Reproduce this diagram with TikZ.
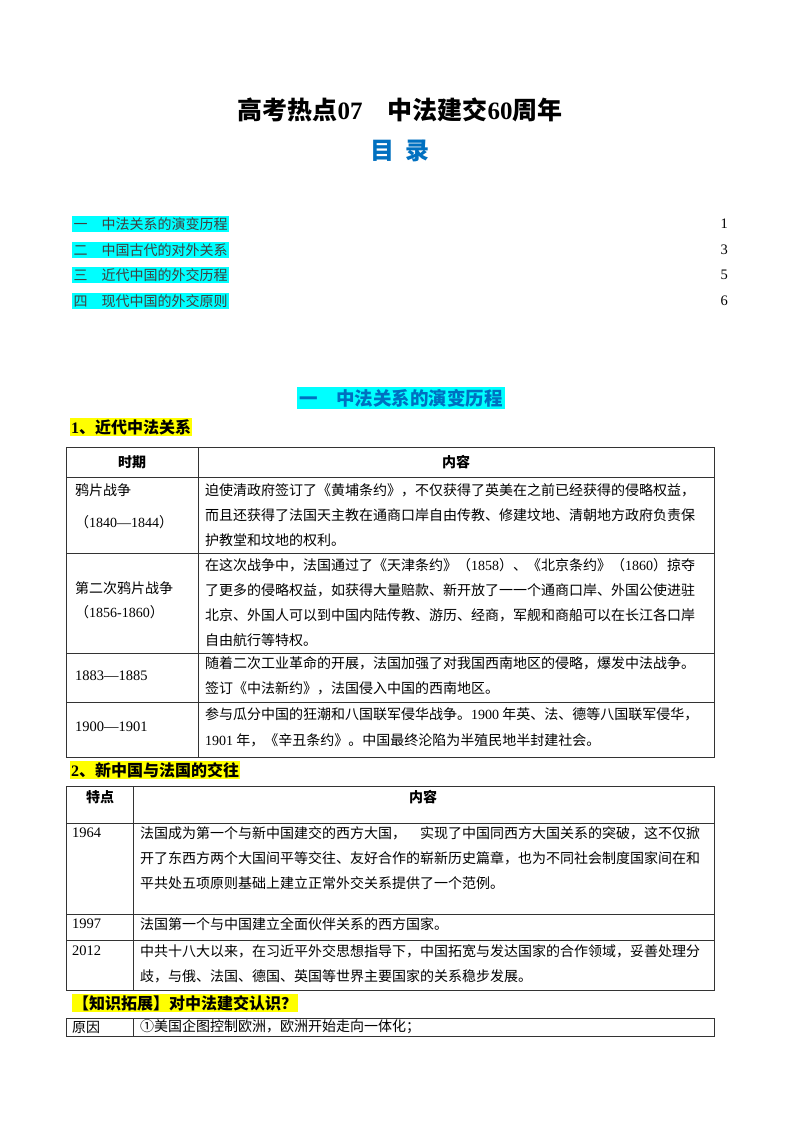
\documentclass[tikz,border=0pt]{standalone}
\usepackage{fontspec}
\setmainfont{Noto Sans CJK SC}
\newfontfamily\serifn{Liberation Serif}
\definecolor{hlc}{RGB}{0,255,255}
\definecolor{hly}{RGB}{255,255,0}
\definecolor{tblue}{RGB}{0,112,192}
\begin{document}
\begin{tikzpicture}[x=1pt,y=-1pt,
  t/.style={anchor=west,inner sep=0pt,font=\fontsize{14}{14}\selectfont},
  num/.style={anchor=west,inner sep=0pt,font=\serifn\fontsize{14.5}{14.5}\selectfont},
  hd/.style={anchor=center,inner sep=0pt,font=\fontsize{14}{14}\selectfont\bfseries},
  grid/.style={line width=0.8pt,black!80},
  yel/.style={anchor=west,fill=hly,inner sep=1pt,font=\fontsize{16}{16}\selectfont\bfseries},
  toc/.style={anchor=west,fill=hlc,inner sep=1.5pt,text=black!75,font=\fontsize{14}{14}\selectfont}]
\useasboundingbox (0,0) rectangle (800,1132);
\fill[white] (0,0) rectangle (800,1132);
\node[font=\fontsize{25}{25}\selectfont\bfseries] (title) at (400,110) {高考热点{\serifn 07}\quad 中法建交{\serifn 60}周年};
\node[font=\fontsize{24}{24}\selectfont\bfseries,text=tblue] (mulu) at (400,151) {目\ \ 录};
\node[toc] (t1) at (72,224) {一\quad 中法关系的演变历程};
\node[toc] (t2) at (72,250) {二\quad 中国古代的对外关系};
\node[toc] (t3) at (72,275) {三\quad 近代中国的外交历程};
\node[toc] (t4) at (72,301) {四\quad 现代中国的外交原则};
\foreach \y/\n in {224/1,250/3,275/5,301/6} \node[num,anchor=east] at (728,\y) {\n};
\node[anchor=center,fill=hlc,inner sep=2pt,text=tblue,font=\fontsize{18.5}{18.5}\selectfont\bfseries] (sec) at (401,398) {一\quad 中法关系的演变历程};
\node[yel] (h1) at (70,427) {{\serifn 1}、近代中法关系};
% table 1
\draw[grid] (66,447) rectangle (714,757);
\draw[grid] (198,447) -- (198,757);
\foreach \y in {477,553,653,702} \draw[grid] (66,\y) -- (714,\y);
\node[hd] at (132,462) {时期};
\node[hd] at (456,462) {内容};
\node[t] at (75,490) {鸦片战争};
\node[t] at (75,522) {（{\serifn 1840—1844}）};
\node[t] at (205,490) {迫使清政府签订了《黄埔条约》，不仅获得了英美在之前已经获得的侵略权益，};
\node[t] at (205,515) {而且还获得了法国天主教在通商口岸自由传教、修建坟地、清朝地方政府负责保};
\node[t] at (205,540) {护教堂和坟地的权利。};
\node[t] at (75,588) {第二次鸦片战争};
\node[t] at (75,612) {（{\serifn 1856-1860}）};
\node[t] at (205,565) {在这次战争中，法国通过了《天津条约》（{\serifn 1858}）、《北京条约》（{\serifn 1860}）掠夺};
\node[t] at (205,590) {了更多的侵略权益，如获得大量赔款、新开放了一一个通商口岸、外国公使进驻};
\node[t] at (205,615) {北京、外国人可以到中国内陆传教、游历、经商，军舰和商船可以在长江各口岸};
\node[t] at (205,640) {自由航行等特权。};
\node[num] at (75,676) {1883—1885};
\node[t] at (205,663) {随着二次工业革命的开展，法国加强了对我国西南地区的侵略，爆发中法战争。};
\node[t] at (205,688) {签订《中法新约》，法国侵入中国的西南地区。};
\node[num] at (75,727) {1900—1901};
\node[t] at (205,714) {参与瓜分中国的狂潮和八国联军侵华战争。{\serifn 1900} 年英、法、德等八国联军侵华，};
\node[t] at (205,740) {{\serifn 1901} 年，《辛丑条约》。中国最终沦陷为半殖民地半封建社会。};
\node[yel] (h2) at (70,770) {{\serifn 2}、新中国与法国的交往};
% table 2
\draw[grid] (66,786) rectangle (714,990);
\draw[grid] (133,786) -- (133,990);
\foreach \y in {823,914,940} \draw[grid] (66,\y) -- (714,\y);
\node[hd] at (100,797) {特点};
\node[hd] at (423,797) {内容};
\node[num] at (72,833) {1964};
\node[t] at (140,833) {法国成为第一个与新中国建交的西方大国，\quad 实现了中国同西方大国关系的突破，这不仅掀};
\node[t] at (140,858) {开了东西方两个大国间平等交往、友好合作的崭新历史篇章，也为不同社会制度国家间在和};
\node[t] at (140,883) {平共处五项原则基础上建立正常外交关系提供了一个范例。};
\node[num] at (72,924) {1997};
\node[t] at (140,924) {法国第一个与中国建立全面伙伴关系的西方国家。};
\node[num] at (72,951) {2012};
\node[t] at (140,951) {中共十八大以来，在习近平外交思想指导下，中国拓宽与发达国家的合作领域，妥善处理分};
\node[t] at (140,976) {歧，与俄、法国、德国、英国等世界主要国家的关系稳步发展。};
\node[yel] (h3) at (72,1003) {【知识拓展】对中法建交认识？};
% table 3
\draw[grid] (66,1018) rectangle (714,1036);
\draw[grid] (133,1018) -- (133,1036);
\node[t] at (72,1027) {原因};
\node[t] at (140,1027) {①美国企图控制欧洲，欧洲开始走向一体化；};
\end{tikzpicture}
\end{document}
